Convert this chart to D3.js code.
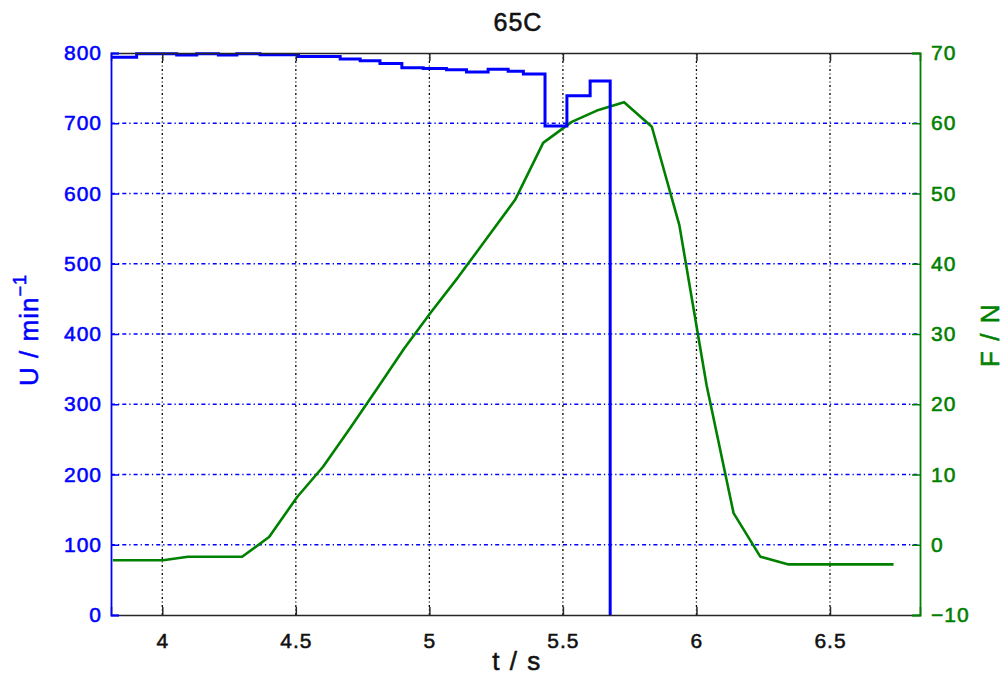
<!DOCTYPE html>
<html>
<head>
<meta charset="utf-8">
<script src="https://cdn.jsdelivr.net/npm/d3@7"></script>
<style>
  html, body { margin: 0; padding: 0; background: #fff; }
  svg { display: block; }
  text { font-family: "Liberation Sans", Arial, sans-serif; }
</style>
</head>
<body>
<script>
// Rotational speed (stair plot) and force over time
const timeRange = [3.808, 6.837];
const speedRange = [0, 800];
const forceRange = [-10, 70];

const xTicks = [4, 4.5, 5, 5.5, 6, 6.5];
const speedTicks = [0, 100, 200, 300, 400, 500, 600, 700, 800];
const forceTicks = [-10, 0, 10, 20, 30, 40, 50, 60, 70];

// speed steps: each value holds from its time to the next one
const speedTime = [3.808, 3.904, 4.054, 4.129, 4.210, 4.279, 4.366, 4.510, 4.666, 4.741, 4.815,
                   4.897, 4.977, 5.064, 5.139, 5.220, 5.295, 5.352, 5.433, 5.515, 5.602, 5.677];
const speedValue = [794, 799, 797, 799, 797, 799, 797.5, 795, 791.5, 789, 785,
                    779, 778, 776, 773, 777, 774, 770, 696, 739, 760, 0];

const forceTime = [3.815, 4.003, 4.096, 4.299, 4.400, 4.505, 4.602, 4.703, 4.804, 4.905, 5.006,
                   5.108, 5.209, 5.321, 5.426, 5.533, 5.627, 5.729, 5.833, 5.936, 6.038, 6.139,
                   6.239, 6.345, 6.738];
const forceValue = [-2.2, -2.2, -1.7, -1.7, 1.1, 6.8, 11.1, 16.6, 22.2, 27.9, 33.1,
                    38.1, 43.3, 49.1, 57.2, 60.2, 61.8, 63.0, 59.5, 45.5, 22.7, 4.5,
                    -1.7, -2.8, -2.8];

const W = 1008, H = 675;
const plotL = 111, plotR = 920, plotT = 53, plotB = 615;
const BLUE = "#0000ff", GREEN = "#008000", AXIS = "#262626";

const svg = d3.select("body").append("svg").attr("width", W).attr("height", H);

const x = d3.scaleLinear().domain(timeRange).range([plotL, plotR]);
const yU = d3.scaleLinear().domain(speedRange).range([plotB, plotT]);
const yF = d3.scaleLinear().domain(forceRange).range([plotB, plotT]);

// give text a slightly heavier stroke
function heavy(sel, color, w = 0.55) {
  sel.attr("fill", color).attr("stroke", color).attr("stroke-width", w);
}

// grid
const grid = svg.append("g");
grid.selectAll("line.v").data(xTicks).join("line")
  .attr("x1", d => x(d)).attr("x2", d => x(d))
  .attr("y1", plotT).attr("y2", plotB)
  .attr("stroke", "#000").attr("stroke-width", 1.3)
  .attr("stroke-dasharray", "2,2.5,1,2.5");
grid.selectAll("line.h").data(speedTicks.filter(d => d > speedRange[0] && d < speedRange[1])).join("line")
  .attr("x1", plotL).attr("x2", plotR)
  .attr("y1", d => yU(d)).attr("y2", d => yU(d))
  .attr("stroke", BLUE).attr("stroke-width", 1.3)
  .attr("stroke-dasharray", "4,3,1.3,3");

svg.append("clipPath").attr("id", "plot")
  .append("rect").attr("x", plotL).attr("y", plotT - 2).attr("width", plotR - plotL).attr("height", plotB - plotT + 4);

// force curve
const forcePts = forceTime.map((t, i) => [t, forceValue[i]]);
svg.append("path")
  .attr("clip-path", "url(#plot)")
  .attr("d", d3.line().x(d => x(d[0])).y(d => yF(d[1]))(forcePts))
  .attr("fill", "none").attr("stroke", GREEN).attr("stroke-width", 2.6)
  .attr("stroke-linejoin", "round");

// speed stairs
const speedPts = speedTime.map((t, i) => [t, speedValue[i]]);
svg.append("path")
  .attr("clip-path", "url(#plot)")
  .attr("d", d3.line().curve(d3.curveStepAfter).x(d => x(d[0])).y(d => yU(d[1]))(speedPts))
  .attr("fill", "none").attr("stroke", BLUE).attr("stroke-width", 3);

// axes
const bottomAxis = svg.append("g").attr("transform", `translate(0,${plotB})`)
  .call(d3.axisBottom(x).tickValues(xTicks).tickSize(-8).tickPadding(18).tickFormat(d3.format("")));
const topAxis = svg.append("g").attr("transform", `translate(0,${plotT})`)
  .call(d3.axisTop(x).tickValues(xTicks).tickSize(-8).tickFormat(""));
[bottomAxis, topAxis].forEach(g => {
  g.select(".domain").attr("stroke", AXIS).attr("stroke-width", 1.5);
  g.selectAll(".tick line").attr("stroke", AXIS).attr("stroke-width", 1.5);
});
bottomAxis.selectAll(".tick text").attr("font-size", 21).attr("letter-spacing", "1px")
  .call(heavy, "#111");

const leftAxis = svg.append("g").attr("transform", `translate(${plotL},0)`)
  .call(d3.axisLeft(yU).tickValues(speedTicks).tickSize(-8).tickPadding(9));
leftAxis.select(".domain").attr("stroke", BLUE).attr("stroke-width", 1.8);
leftAxis.selectAll(".tick line").attr("stroke", BLUE).attr("stroke-width", 1.5);
leftAxis.selectAll(".tick text").attr("font-size", 21).attr("letter-spacing", "1px")
  .call(heavy, BLUE);

const rightAxis = svg.append("g").attr("transform", `translate(${plotR},0)`)
  .call(d3.axisRight(yF).tickValues(forceTicks).tickSize(-8).tickPadding(11)
    .tickFormat(d => d < 0 ? "\u2212" + Math.abs(d) : d));
rightAxis.select(".domain").attr("stroke", GREEN).attr("stroke-width", 1.8);
rightAxis.selectAll(".tick line").attr("stroke", GREEN).attr("stroke-width", 1.5);
rightAxis.selectAll(".tick text").attr("font-size", 21).attr("letter-spacing", "1px")
  .call(heavy, GREEN);
svg.selectAll(".domain").attr("fill", "none");

// titles
svg.append("text").attr("x", 518).attr("y", 31).attr("text-anchor", "middle")
  .attr("font-size", 25).attr("letter-spacing", "1px").text("65C").call(heavy, "#111");
svg.append("text").attr("x", 517).attr("y", 670).attr("text-anchor", "middle")
  .attr("font-size", 26).attr("letter-spacing", "1.5px").text("t / s").call(heavy, "#111");

const uLabel = svg.append("text")
  .attr("transform", "translate(38,330) rotate(-90)")
  .attr("text-anchor", "middle").attr("font-size", 26).attr("letter-spacing", "1px")
  .call(heavy, BLUE);
uLabel.append("tspan").text("U / min");
uLabel.append("tspan").attr("dy", -12).attr("font-size", 18).text("\u22121");

svg.append("text")
  .attr("transform", "translate(999,335) rotate(-90)")
  .attr("text-anchor", "middle").attr("font-size", 26)
  .attr("letter-spacing", "1.5px").text("F / N").call(heavy, GREEN);
</script>
</body>
</html>
